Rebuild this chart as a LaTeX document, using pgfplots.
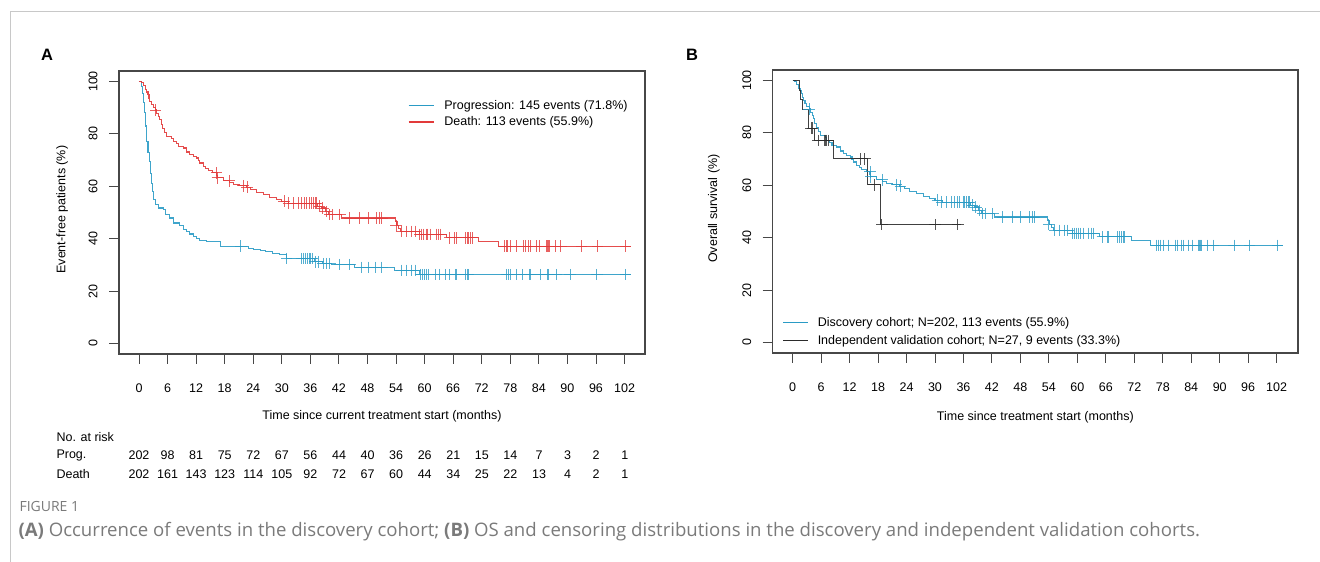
\documentclass[border=0pt]{standalone}
\usepackage{pgfplots}
\pgfplotsset{compat=1.18}
\usepackage{fontspec}
\setmainfont{Liberation Sans}
\newfontfamily\capfont{Open Sans}
\definecolor{kmblue}{HTML}{2A9BC5}
\definecolor{kmred}{HTML}{E23A3A}
\definecolor{kmblack}{HTML}{2B2B2B}
\definecolor{capgray}{HTML}{7A7A7A}
\definecolor{framegray}{HTML}{C8C8C8}

\pgfplotsset{
  kmaxis/.style={
    scale only axis,
    xmin=-4.2, xmax=106.3, ymin=-4, ymax=104,
    xtick={0,6,...,102}, ytick={0,20,...,100},
    tick align=outside, xtick pos=bottom, ytick pos=left,
    major tick length=10pt,
    axis line style={black!72, line width=1.2pt},
    tick style={black!72, line width=0.9pt},
    /pgf/number format/assume math mode=true,
    yticklabel style={rotate=90, anchor=south},
    xticklabel shift=16pt, yticklabel shift=8pt,
    legend cell align=left,
    legend image code/.code={\draw[#1, line width=1.4pt, opacity=1] (0pt,0pt) -- (25pt,0pt);},
  },
  kmline/.style={const plot, line width=1.1pt, no marks, opacity=0.9},
  kmcens/.style={only marks, mark=+, mark size=5.8pt, mark options={line width=0.9pt}, opacity=0.8, forget plot},
}

\begin{document}
\begin{tikzpicture}[font=\fontsize{12.5}{15}\selectfont]
\begin{scope}[x=1pt, y=1pt]
\path[use as bounding box] (0,0) rectangle (1320,562);
\draw[framegray, line width=1pt] (10,0) -- (10,550) -- (1320,550);
\node[font=\fontsize{16.5}{18}\selectfont\bfseries] at (47,507) {A};
\node[font=\fontsize{16.5}{18}\selectfont\bfseries] at (692,507) {B};
\end{scope}

% ---------------- Panel A ----------------
\begin{axis}[kmaxis, at={(119pt,208pt)}, anchor=south west, width=526pt, height=283pt,
  xlabel={Time since current treatment start (months)},
  ylabel={Event-free patients (\%)},
  xlabel style={at={(axis description cs:0.5,-0.219)}, anchor=center},
  ylabel style={at={(axis description cs:-0.108,0.51)}, anchor=center},
  legend style={draw=none, fill=none, at={(0.549,0.905)}, anchor=north west, inner sep=0pt, row sep=2pt, column sep=8pt},
]
\addplot[kmline, kmblue] coordinates {
(0,100) (0.5,98) (0.8,95.5) (1.0,92) (1.2,88) (1.4,83) (1.6,77) (1.9,73)
(2.2,69.5) (2.4,65) (2.6,61) (2.8,58) (3.1,55) (3.4,53) (4.05,51.7)
(5.1,51.0) (5.5,49.2) (6.5,47.9) (7.2,46) (8.6,45.1) (9.3,43.5) (10.0,42.6)
(10.7,41.8) (11.4,40.8) (12.1,40.0) (12.8,39.3) (14.2,38.8) (17.2,37.1)
(23.0,36.3) (24.0,35.8) (25.5,35.4) (26.5,35.0) (28.0,34.4) (29.6,33.9)
(31.0,32.4) (36.8,31.2) (38.5,30.5) (40.5,30.1) (45.2,29.0) (53.6,27.9)
(59.0,26.3) (103.3,26.3)
};
\addlegendentry{Progression: 145 events (71.8\%)}
\addplot[kmline, kmred] coordinates {
(0,100) (0.5,99.5) (0.9,98.5) (1.3,97.0) (1.6,96.0) (1.9,95.0) (2.1,93.6)
(2.3,92.4) (2.6,91.1) (3.0,90.1) (3.5,89.1) (3.7,87.8) (4.1,86.6) (4.4,85.4)
(4.7,83.7) (5.0,82.2) (5.4,80.6) (5.8,79.0) (6.9,78.4) (7.2,77.2) (7.8,76.2)
(8.3,75.2) (9.3,74.6) (10.0,73.1) (10.7,72.3) (11.4,71.4) (12.1,70.8)
(12.5,69.9) (12.8,68.9) (13.5,67.6) (14.0,66.8) (14.6,66.0) (15.5,65.1)
(16.3,64.1) (16.5,63.2) (17.7,62.1) (19.0,61.4) (19.8,60.8) (21.0,60.2)
(22.5,59.7) (23.5,58.8) (24.7,57.8) (26.1,56.9) (27.5,55.8) (28.8,55.0)
(30.0,54.3) (31.5,53.6) (37.5,52.4) (38.3,51.7) (39.2,50.4) (39.9,49.2)
(42.6,47.9) (53.8,46.4) (54.2,45.0) (54.6,43.8) (55.0,42.8) (59.0,41.6)
(64.6,40.3) (71.4,38.8) (75.5,37.1) (103.3,37.1)
};
\addlegendentry{Death: 113 events (55.9\%)}
\addplot[kmcens, kmblue] coordinates {
(21.4,37.1) (31.0,32.4) (34.2,32.4) (34.6,32.4) (35.0,32.4) (35.4,32.4)
(35.8,32.4) (36.1,32.4) (36.4,32.4) (37.0,31.2) (37.6,31.2) (38.7,30.5)
(39.3,30.5) (40.1,30.5) (42.2,30.1) (44.3,30.1) (46.8,29.0) (48.2,29.0)
(49.6,29.0) (51.0,29.0) (55.2,27.9) (56.2,27.9) (57.3,27.9) (58.0,27.9)
(59.1,26.3) (59.5,26.3) (59.9,26.3) (60.4,26.3) (60.9,26.3) (62.2,26.3)
(63.2,26.3) (64.3,26.3) (65.3,26.3) (66.4,26.3) (66.6,26.3) (68.5,26.3)
(68.9,26.3) (69.2,26.3) (77.2,26.3) (77.6,26.3) (78.1,26.3) (79.2,26.3)
(80.6,26.3) (82.0,26.3) (82.2,26.3) (84.4,26.3) (85.9,26.3) (86.1,26.3)
(87.6,26.3) (90.6,26.3) (96.2,26.3) (102.2,26.3)
};
\addplot[kmcens, kmred] coordinates {
(3.5,89.1) (16.3,65.1) (16.5,63.2) (18.9,62.1) (21.9,60.2) (22.7,59.7)
(30.5,54.3) (31.4,53.6) (32.4,53.6) (33.5,53.6) (34.2,53.6) (34.7,53.6)
(35.2,53.6) (35.9,53.6) (36.3,53.6) (36.6,53.6) (37.0,53.6) (37.3,53.6)
(37.9,52.4) (38.6,51.7) (39.3,50.4) (40.1,49.2) (40.7,49.2) (42.2,49.2)
(44.3,47.9) (46.4,47.9) (48.1,47.9) (49.9,47.9) (50.6,47.9) (51.0,47.9)
(54.0,45.0) (55.2,42.8) (56.2,42.8) (57.3,42.8) (58.0,42.8) (59.0,41.6)
(59.4,41.6) (59.8,41.6) (60.3,41.6) (60.7,41.6) (61.2,41.6) (62.4,41.6)
(62.9,41.6) (63.4,41.6) (65.3,40.3) (66.3,40.3) (66.6,40.3) (68.5,40.3)
(68.9,40.3) (69.3,40.3) (69.7,40.3) (70.0,40.3) (76.7,37.1) (77.1,37.1)
(77.5,37.1) (78.1,37.1) (79.3,37.1) (80.7,37.1) (81.1,37.1) (81.9,37.1)
(82.3,37.1) (83.4,37.1) (84.2,37.1) (85.5,37.1) (85.8,37.1) (86.0,37.1)
(86.2,37.1) (87.5,37.1) (88.6,37.1) (93.0,37.1) (96.3,37.1) (102.2,37.1)
};
\end{axis}

% ---------------- Panel B ----------------
\begin{axis}[kmaxis, at={(772.7pt,209pt)}, anchor=south west, width=525.3pt, height=283pt,
  xmin=-4.2, xmax=106.5,
  xlabel={Time since treatment start (months)},
  ylabel={Overall survival (\%)},
  xlabel style={at={(axis description cs:0.5,-0.226)}, anchor=center},
  ylabel style={at={(axis description cs:-0.112,0.51)}, anchor=center},
  legend style={draw=none, fill=none, at={(0.018,0.018)}, anchor=south west, inner sep=0pt, row sep=3.5pt, column sep=7pt},
]
\addplot[kmline, kmblue] coordinates {
(0,100) (0.5,99.5) (0.9,98.5) (1.3,97.0) (1.6,96.0) (1.9,95.0) (2.1,93.6)
(2.3,92.4) (2.6,91.1) (3.0,90.1) (3.5,89.1) (3.7,87.8) (4.1,86.6) (4.4,85.4)
(4.7,83.7) (5.0,82.2) (5.4,80.6) (5.8,79.0) (6.9,78.4) (7.2,77.2) (7.8,76.2)
(8.3,75.2) (9.3,74.6) (10.0,73.1) (10.7,72.3) (11.4,71.4) (12.1,70.8)
(12.5,69.9) (12.8,68.9) (13.5,67.6) (14.0,66.8) (14.6,66.0) (15.5,65.1)
(16.3,64.1) (16.5,63.2) (17.7,62.1) (19.0,61.4) (19.8,60.8) (21.0,60.2)
(22.5,59.7) (23.5,58.8) (24.7,57.8) (26.1,56.9) (27.5,55.8) (28.8,55.0)
(30.0,54.3) (31.5,53.6) (37.5,52.4) (38.3,51.7) (39.2,50.4) (39.9,49.2)
(42.6,47.9) (53.8,46.4) (54.2,45.0) (54.6,43.8) (55.0,42.8) (59.0,41.6)
(64.6,40.3) (71.4,38.8) (75.5,37.1) (103.3,37.1)
};
\addlegendentry{Discovery cohort; N=202, 113 events (55.9\%)}
\addplot[kmline, kmblack] coordinates {
(0,100) (1.5,96.3) (1.7,92.6) (2.0,88.8) (3.3,81.8) (4.6,77.1) (8.6,70.1)
(15.7,60.2) (18.6,45.0) (35.5,45.0)
};
\addlegendentry{Independent validation cohort; N=27, 9 events (33.3\%)}
\addplot[kmcens, kmblue] coordinates {
(3.5,89.1) (16.3,65.1) (16.5,63.2) (18.9,62.1) (21.9,60.2) (22.7,59.7)
(30.5,54.3) (31.4,53.6) (32.4,53.6) (33.5,53.6) (34.2,53.6) (34.7,53.6)
(35.2,53.6) (35.9,53.6) (36.3,53.6) (36.6,53.6) (37.0,53.6) (37.3,53.6)
(37.9,52.4) (38.6,51.7) (39.3,50.4) (40.1,49.2) (40.7,49.2) (42.2,49.2)
(44.3,47.9) (46.4,47.9) (48.1,47.9) (49.9,47.9) (50.6,47.9) (51.0,47.9)
(54.0,45.0) (55.2,42.8) (56.2,42.8) (57.3,42.8) (58.0,42.8) (59.0,41.6)
(59.4,41.6) (59.8,41.6) (60.3,41.6) (60.7,41.6) (61.2,41.6) (62.4,41.6)
(62.9,41.6) (63.4,41.6) (65.3,40.3) (66.3,40.3) (66.6,40.3) (68.5,40.3)
(68.9,40.3) (69.3,40.3) (69.7,40.3) (70.0,40.3) (76.7,37.1) (77.1,37.1)
(77.5,37.1) (78.1,37.1) (79.3,37.1) (80.7,37.1) (81.1,37.1) (81.9,37.1)
(82.3,37.1) (83.4,37.1) (84.2,37.1) (85.5,37.1) (85.8,37.1) (86.0,37.1)
(86.2,37.1) (87.5,37.1) (88.6,37.1) (93.0,37.1) (96.3,37.1) (102.2,37.1)
};
\addplot[kmcens, kmblack] coordinates {
(3.9,81.8) (4.2,81.8) (5.4,77.1) (6.7,77.1) (7.0,77.1) (7.2,77.1) (7.5,77.1)
(14.2,70.1) (15.2,70.1) (17.2,60.2) (18.8,45.0) (30.0,45.0) (34.8,45.0)
};
\end{axis}

\begin{scope}[x=1pt, y=1pt]
% number at risk
\node[anchor=west] at (53,125) {No. at risk};
\node[anchor=west] at (53,107) {Prog.};
\node[anchor=west] at (53,88) {Death};
\foreach \t/\p/\d in {0/202/202,6/98/161,12/81/143,18/75/123,24/72/114,30/67/105,36/56/92,42/44/72,48/40/67,54/36/60,60/26/44,66/21/34,72/15/25,78/14/22,84/7/13,90/3/4,96/2/2,102/1/1} {
  \node at ({139+4.762*\t},107) {\p};
  \node at ({139+4.762*\t},88) {\d};
}
% caption
\node[anchor=west, text=capgray, font=\capfont\fontsize{14}{16}\selectfont] at (16,55) {FIGURE 1};
\node[anchor=west, text=capgray, font=\capfont\fontsize{18.6}{21}\selectfont] at (15,30)
  {{\bfseries (A)} Occurrence of events in the discovery cohort; {\bfseries (B)} OS and censoring distributions in the discovery and independent validation cohorts.};
\end{scope}
\end{tikzpicture}
\end{document}
